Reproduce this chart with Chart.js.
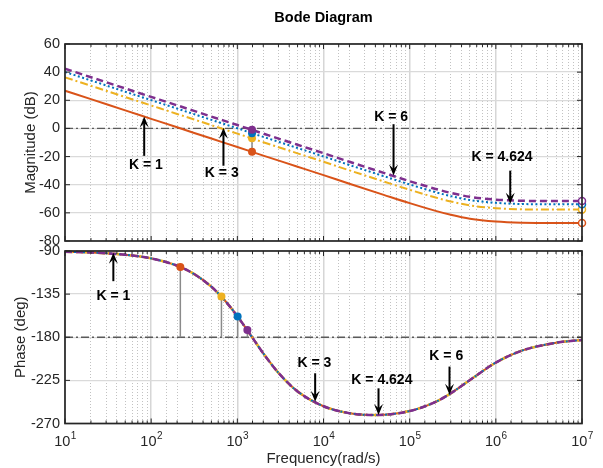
<!DOCTYPE html>
<html>
<head>
<meta charset="utf-8">
<script src="https://cdn.jsdelivr.net/npm/chart.js@4.4.1/dist/chart.umd.min.js"></script>
<style>
  html, body { margin: 0; padding: 0; background: #fff; overflow: hidden; }
  #wrap { position: relative; width: 603px; height: 468px; }
  #wrap canvas { position: absolute; left: 0; top: 0; }
</style>
</head>
<body>
<div id="wrap">
  <canvas id="magChart" width="603" height="468"></canvas>
  <canvas id="phaseChart" width="603" height="468"></canvas>
</div>
<script>
// MAGNITUDE (dB)
const freq = [10, 20, 50, 100, 200, 500, 1e3, 2e3, 5e3, 1e4, 2e4, 5e4, 1e5, 2e5, 3e5, 5e5, 1e6, 2e6, 5e6, 1e7];
const magK1 = [26.8, 20.8, 12.8, 6.8, 0.8, -7.2, -13.2, -19.3, -27.2, -33.2, -39.3, -47.2, -53.1, -58.6, -61.4, -64.2, -66.2, -67.0, -67.2, -67.2];
const magK3 = [36.3, 30.3, 22.3, 16.3, 10.3, 2.3, -3.7, -9.8, -17.7, -23.7, -29.8, -37.7, -43.6, -49.1, -51.9, -54.7, -56.7, -57.5, -57.7, -57.7];
const magK4624 = [40.1, 34.1, 26.1, 20.1, 14.1, 6.1, 0.1, -6.0, -13.9, -19.9, -26.0, -33.9, -39.8, -45.3, -48.1, -50.9, -52.9, -53.7, -53.9, -53.9];
const magK6 = [42.4, 36.4, 28.4, 22.4, 16.4, 8.4, 2.4, -3.7, -11.6, -17.6, -23.7, -31.6, -37.5, -43.0, -45.8, -48.6, -50.6, -51.4, -51.6, -51.6];

// PHASE (deg), same for every K
const phaseFreq = [10, 20, 50, 100, 200, 300, 500, 700, 1e3, 1.5e3, 2e3, 3e3, 5e3, 1e4, 2e4, 4e4, 1e5, 2e5, 3e5, 5e5, 1e6, 2e6, 5e6, 1e7];
const phaseDeg = [-90.8, -91.5, -93.9, -97.7, -105.4, -112.9, -127.3, -140.6, -158.0, -180.6, -196.8, -217.1, -236.5, -252.0, -259.2, -261.2, -257.0, -247.4, -238.5, -224.7, -206.4, -194.0, -185.7, -182.8];

// margin markers
const phaseCrossFreq = 1480;
const gainAtPhaseCross = [-16.5, -7.0, -3.4, -0.9];
const gainCrossFreq = [218, 654, 1008, 1308];
const phaseAtGainCross = [-106.8, -137.5, -158.3, -172.5];

// tick labels
const magTicks = [-80, -60, -40, -20, 0, 20, 40, 60];
const phaseTicks = [-270, -225, -180, -135, -90];
const decadeExp = [1, 2, 3, 4, 5, 6, 7];

const RED = '#D95319', YEL = '#EDB120', BLU = '#0072BD', PUR = '#7E2F8E';
const markerColors = [RED, YEL, BLU, PUR];
const FONT = "'Liberation Sans', Arial, Helvetica, sans-serif";
const INK = '#262626';

const isDecade = v => Math.abs(Math.log10(v) - Math.round(Math.log10(v))) < 1e-6;
const pts = (xs, ys) => xs.map((x, i) => ({ x: x, y: ys[i] }));

function curve(data, color, dash, width, order, endMark) {
    return {
        data: data,
        borderColor: color,
        borderWidth: width,
        borderDash: dash,
        cubicInterpolationMode: 'monotone',
        order: order,
        clip: false,
        pointRadius: endMark ? (c => c.dataIndex === data.length - 1 ? 3.5 : 0) : 0,
        pointBackgroundColor: '#fff',
        pointBorderColor: color,
        pointBorderWidth: 1.5
    };
}

function xAxis(withTitle) {
    return {
        type: 'logarithmic', min: 10, max: 1e7,
        ticks: { display: false },
        grid: {
            drawTicks: false,
            color: c => (c.tick && isDecade(c.tick.value)) ? '#d6d6d6' : '#c2c2c2',
            lineWidth: c => (c.tick && isDecade(c.tick.value)) ? 1.5 : 1
        },
        border: { display: false, dash: c => (c.tick && isDecade(c.tick.value)) ? [] : [1, 2] },
        title: {
            display: withTitle, text: 'Frequency(rad/s)', color: INK,
            font: { family: FONT, size: 15 }, padding: { top: 0, bottom: 0 }
        },
        afterFit: s => { s.height = withTitle ? 44.5 : 0; }
    };
}

function yAxis(ticks, title, titlePad) {
    return {
        min: ticks[0], max: ticks[ticks.length - 1],
        afterBuildTicks: s => { s.ticks = ticks.map(v => ({ value: v })); },
        ticks: { color: INK, padding: 5, font: { family: FONT, size: 14.5 } },
        grid: { drawTicks: false, color: '#dadada', lineWidth: 1.3 },
        border: { display: false },
        title: {
            display: true, text: title, color: INK,
            font: { family: FONT, size: 15 }, padding: { top: titlePad, bottom: 0 }
        },
        afterFit: s => { s.width = 65; }
    };
}

function arrow(ctx, x, y0, y1) {
    const dir = Math.sign(y1 - y0), hl = 11, hw = 4.5;
    ctx.beginPath();
    ctx.moveTo(x, y0);
    ctx.lineTo(x, y1 - dir * hl * 0.6);
    ctx.stroke();
    ctx.beginPath();
    ctx.moveTo(x, y1);
    ctx.lineTo(x - hw, y1 - dir * hl);
    ctx.lineTo(x, y1 - dir * hl * 0.6);
    ctx.lineTo(x + hw, y1 - dir * hl);
    ctx.closePath();
    ctx.fill();
}

// box, inward ticks, arrows, superscript decade labels
const matlabAxes = {
    id: 'matlabAxes',
    afterDatasetsDraw(chart, args, o) {
        const { ctx, chartArea: a } = chart;
        const x = chart.scales.x, y = chart.scales.y;
        const seg = (x0, y0, x1, y1) => { ctx.beginPath(); ctx.moveTo(x0, y0); ctx.lineTo(x1, y1); ctx.stroke(); };
        ctx.save();
        ctx.strokeStyle = INK;
        ctx.lineWidth = 1;
        x.ticks.forEach(t => {
            const px = x.getPixelForValue(t.value);
            const len = isDecade(t.value) ? 5 : 3;
            seg(px, a.bottom, px, a.bottom - len);
            seg(px, a.top, px, a.top + len);
        });
        y.ticks.forEach(t => {
            const py = y.getPixelForValue(t.value);
            seg(a.left, py, a.left + 5, py);
            seg(a.right, py, a.right - 5, py);
        });
        ctx.lineWidth = 1.7;
        ctx.strokeRect(a.left, a.top, a.right - a.left, a.bottom - a.top);

        ctx.fillStyle = '#000';
        ctx.strokeStyle = '#000';
        ctx.lineWidth = 2;
        ctx.textAlign = 'center';
        ctx.textBaseline = 'middle';
        ctx.font = 'bold 14px ' + FONT;
        (o.notes || []).forEach(n => {
            ctx.fillText(n.text, x.getPixelForValue(n.tx), y.getPixelForValue(n.ty));
            arrow(ctx, x.getPixelForValue(n.ax), y.getPixelForValue(n.from), y.getPixelForValue(n.to));
        });

        if (o.title) {
            ctx.fillStyle = '#000';
            ctx.font = 'bold 14.5px ' + FONT;
            ctx.fillText(o.title, (a.left + a.right) / 2, 18);
        }

        if (o.decades) {
            ctx.fillStyle = INK;
            ctx.textAlign = 'left';
            decadeExp.forEach(e => {
                const px = x.getPixelForValue(Math.pow(10, e));
                ctx.font = '14.5px ' + FONT;
                const wb = ctx.measureText('10').width;
                ctx.font = '10px ' + FONT;
                const we = ctx.measureText(String(e)).width;
                const x0 = px - (wb + we) / 2;
                ctx.font = '14.5px ' + FONT;
                ctx.fillText('10', x0, 442);
                ctx.font = '10px ' + FONT;
                ctx.fillText(String(e), x0 + wb + 0.5, 436);
            });
        }
        ctx.restore();
    }
};

const common = {
    responsive: false,
    animation: false,
    events: [],
    elements: { line: { borderCapStyle: 'butt' } }
};

// MAGNITUDE PLOT
new Chart(document.getElementById('magChart'), {
    type: 'line',
    data: {
        datasets: [
            curve(pts(freq, magK6), PUR, [7, 4], 2.5, 2, true),
            curve(pts(freq, magK4624), BLU, [2, 2.5], 2, 3, true),
            curve(pts(freq, magK3), YEL, [8, 3, 2, 3], 2, 4, true),
            curve(pts(freq, magK1), RED, [], 2, 5, true),
            { data: [{ x: 10, y: 0 }, { x: 1e7, y: 0 }], borderColor: '#5a5a5a', borderWidth: 1.3,
              borderDash: [8, 3, 2, 3], pointRadius: 0, order: 6 },
            { data: [{ x: phaseCrossFreq, y: 0 }, { x: phaseCrossFreq, y: gainAtPhaseCross[0] }],
              borderColor: '#8a8a8a', borderWidth: 1.5, pointRadius: 0, order: 1 },
            { data: gainAtPhaseCross.map(g => ({ x: phaseCrossFreq, y: g })), showLine: false,
              pointRadius: 4, pointBorderWidth: 0, pointBackgroundColor: markerColors, order: 0 }
        ]
    },
    options: Object.assign({}, common, {
        layout: { padding: { left: 0, right: 21, top: 44, bottom: 227 } },
        scales: { x: xAxis(false), y: yAxis(magTicks, 'Magnitude (dB)', 21.5) },
        plugins: {
            legend: { display: false },
            tooltip: { enabled: false },
            matlabAxes: {
                title: 'Bode Diagram',
                notes: [
                    { text: 'K = 1', tx: 87, ty: -26, ax: 83, from: -19.5, to: 8.5 },
                    { text: 'K = 3', tx: 660, ty: -32, ax: 690, from: -26.5, to: 0.5 },
                    { text: 'K = 6', tx: 6.1e4, ty: 8, ax: 6.5e4, from: 3, to: -33.5 },
                    { text: 'K = 4.624', tx: 1.18e6, ty: -20.6, ax: 1.47e6, from: -30, to: -53.5 }
                ]
            }
        }
    }),
    plugins: [matlabAxes]
});

// PHASE PLOT
const phasePts = pts(phaseFreq, phaseDeg);
const stems = [];
gainCrossFreq.forEach((f, i) => {
    stems.push({ x: f, y: -180 }, { x: f, y: phaseAtGainCross[i] }, { x: f, y: null });
});

new Chart(document.getElementById('phaseChart'), {
    type: 'line',
    data: {
        datasets: [
            curve(phasePts, PUR, [7, 4], 2.5, 2, false),
            curve(phasePts, BLU, [2, 2.5], 2, 3, false),
            curve(phasePts, YEL, [8, 3, 2, 3], 2.5, 4, false),
            curve(phasePts, RED, [], 2, 5, false),
            { data: [{ x: 10, y: -180 }, { x: 1e7, y: -180 }], borderColor: '#5a5a5a', borderWidth: 1.3,
              borderDash: [8, 3, 2, 3], pointRadius: 0, order: 6 },
            { data: stems, borderColor: '#8a8a8a', borderWidth: 1.5, pointRadius: 0, spanGaps: false, order: 1 },
            { data: pts(gainCrossFreq, phaseAtGainCross), showLine: false,
              pointRadius: 4, pointBorderWidth: 0, pointBackgroundColor: markerColors, order: 0 }
        ]
    },
    options: Object.assign({}, common, {
        layout: { padding: { left: 0, right: 21, top: 251, bottom: 0 } },
        scales: { x: xAxis(true), y: yAxis(phaseTicks, 'Phase (deg)', 11.5) },
        plugins: {
            legend: { display: false },
            tooltip: { enabled: false },
            matlabAxes: {
                decades: true,
                notes: [
                    { text: 'K = 1', tx: 36.4, ty: -137.2, ax: 36.4, from: -121.5, to: -91.7 },
                    { text: 'K = 3', tx: 7.85e3, ty: -207.1, ax: 8e3, from: -217.6, to: -247.4 },
                    { text: 'K = 4.624', tx: 4.76e4, ty: -224.6, ax: 4.35e4, from: -233.3, to: -261.0 },
                    { text: 'K = 6', tx: 2.66e5, ty: -199.4, ax: 2.9e5, from: -210.6, to: -240 }
                ]
            }
        }
    }),
    plugins: [matlabAxes]
});
</script>
</body>
</html>
